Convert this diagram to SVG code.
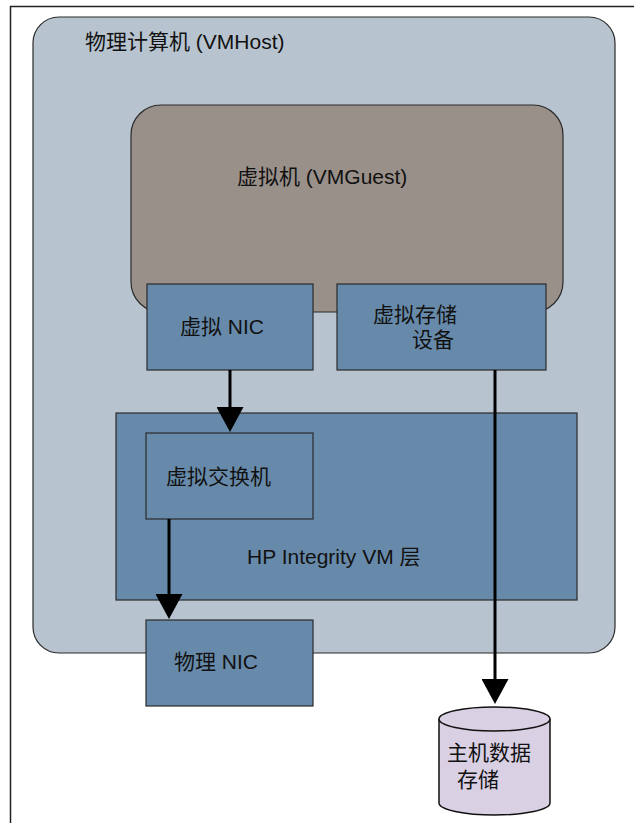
<svg xmlns="http://www.w3.org/2000/svg" width="634" height="823" viewBox="0 0 634 823">
  <defs>
    <style>
      .lbl { font-family: "Liberation Sans", "Noto Sans CJK SC", sans-serif; font-size: 21px; fill: #111; }
      .blue { fill: #678aaa; stroke: #2a2a2a; stroke-width: 1.2; }
      .conn { stroke: #000; stroke-width: 3; fill: none; }
    </style>
    <marker id="arr" viewBox="0 0 25 27" refX="1" refY="13.5" markerWidth="25" markerHeight="27" markerUnits="userSpaceOnUse" orient="auto">
      <path d="M0,0 L25,13.5 L0,27 Z" fill="#000"/>
    </marker>
  </defs>
  <rect x="0" y="0" width="634" height="823" fill="#fff"/>
  <path d="M10.5,823 V6.5 H634" fill="none" stroke="#222" stroke-width="1.5"/>

  <g id="host">
    <rect x="33" y="17" width="582" height="636" rx="26" ry="26" fill="#b7c4cf" stroke="#2a2a2a" stroke-width="1.2"/>
    <text class="lbl" x="85" y="49">物理计算机 (VMHost)</text>
  </g>

  <g id="guest">
    <rect x="131" y="105" width="432" height="207" rx="30" ry="30" fill="#9a908a" stroke="#2a2a2a" stroke-width="1.2"/>
    <text class="lbl" x="237" y="184">虚拟机 (VMGuest)</text>
  </g>

  <g id="vnic">
    <rect class="blue" x="147" y="284" width="166" height="86"/>
    <text class="lbl" x="180" y="334">虚拟 NIC</text>
  </g>

  <g id="vstorage">
    <rect class="blue" x="337" y="284" width="209" height="86"/>
    <text class="lbl" x="373" y="322">虚拟存储</text>
    <text class="lbl" x="412" y="347">设备</text>
  </g>

  <g id="vmlayer">
    <rect class="blue" x="116" y="413" width="461" height="187"/>
    <text class="lbl" x="247" y="564">HP Integrity VM 层</text>
  </g>

  <g id="vswitch">
    <rect class="blue" x="146" y="433" width="167" height="86"/>
    <text class="lbl" x="166" y="484">虚拟交换机</text>
  </g>

  <g id="pnic">
    <rect class="blue" x="146" y="620" width="167" height="86"/>
    <text class="lbl" x="174" y="669">物理 NIC</text>
  </g>

  <g id="hoststorage">
    <path d="M439,719 V803 A55.5,12 0 0 0 550,803 V719" fill="#d9d0e3" stroke="#111" stroke-width="1.5"/>
    <ellipse cx="494.5" cy="719" rx="55.5" ry="12" fill="#d9d0e3" stroke="#111" stroke-width="1.5"/>
    <text class="lbl" x="447" y="760">主机数据</text>
    <text class="lbl" x="457" y="787">存储</text>
  </g>

  <g id="connectors">
    <line class="conn" x1="230" y1="370" x2="230" y2="408" marker-end="url(#arr)"/>
    <line class="conn" x1="169" y1="519" x2="169" y2="595" marker-end="url(#arr)"/>
    <line class="conn" x1="495" y1="370" x2="495" y2="680" marker-end="url(#arr)"/>
  </g>
</svg>
